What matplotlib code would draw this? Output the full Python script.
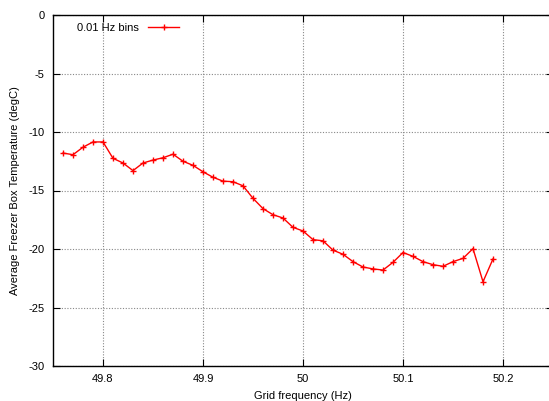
import matplotlib
matplotlib.use('Agg')
import matplotlib.pyplot as plt
import numpy as np

# 0.01 Hz frequency bins and average freezer temperature per bin
freq = [49.76, 49.77, 49.78, 49.79, 49.80, 49.81, 49.82, 49.83, 49.84, 49.85,
        49.86, 49.87, 49.88, 49.89, 49.90, 49.91, 49.92, 49.93, 49.94, 49.95,
        49.96, 49.97, 49.98, 49.99, 50.00, 50.01, 50.02, 50.03, 50.04, 50.05,
        50.06, 50.07, 50.08, 50.09, 50.10, 50.11, 50.12, 50.13, 50.14, 50.15,
        50.16, 50.17, 50.18, 50.19]
temp = [-11.8, -11.94, -11.3, -10.85, -10.85, -12.25, -12.65, -13.3, -12.65, -12.4,
        -12.2, -11.9, -12.5, -12.85, -13.4, -13.87, -14.2, -14.25, -14.6, -15.67,
        -16.55, -17.07, -17.35, -18.15, -18.46, -19.2, -19.3, -20.1, -20.45, -21.08,
        -21.54, -21.7, -21.8, -21.14, -20.3, -20.63, -21.08, -21.34, -21.48, -21.08,
        -20.8, -19.97, -22.8, -20.85]

x_ticks = [49.8, 49.9, 50.0, 50.1, 50.2]
x_labels = ['49.8', '49.9', '50', '50.1', '50.2']
y_ticks = [0, -5, -10, -15, -20, -25, -30]

plt.rcParams['font.family'] = ['Liberation Sans', 'DejaVu Sans']
plt.rcParams['font.size'] = 8
plt.rcParams['axes.unicode_minus'] = False

W, H = 549, 401
fig = plt.figure(figsize=(W / 100, H / 100), dpi=100)
# plot frame runs past the right edge of the image, as in the original
left, right, top, bottom = 53, 553, 15, 366
ax = fig.add_axes([left / W, 1 - bottom / H, (right - left) / W, (bottom - top) / H])

ax.plot(freq, temp, color='#ff0000', linewidth=1.0, marker='+',
        markersize=4, markeredgewidth=1.0, label='0.01 Hz bins')

ax.set_xlim(49.75, 50.25)
ax.set_ylim(-30, 0)
ax.set_xticks(x_ticks)
ax.set_xticklabels(x_labels)
ax.set_yticks(y_ticks)
ax.tick_params(direction='in', length=5, width=0.8, top=True, right=True,
               labelsize=8, pad=6, colors='black')
ax.grid(True, color='#888888', linestyle=(0, (1, 1.5)), linewidth=0.8)
for s in ax.spines.values():
    s.set_linewidth(1.0)

ax.set_xlabel('Grid frequency (Hz)', fontsize=8, labelpad=5)
ax.set_ylabel('Average Freezer Box Temperature (degC)', fontsize=8, labelpad=6)

leg = ax.legend(loc='upper left', bbox_to_anchor=(0.033, 1.0), frameon=False,
                markerfirst=False, handlelength=2.8, fontsize=8,
                borderaxespad=0.3)

fig.savefig('out.png', dpi=100)
